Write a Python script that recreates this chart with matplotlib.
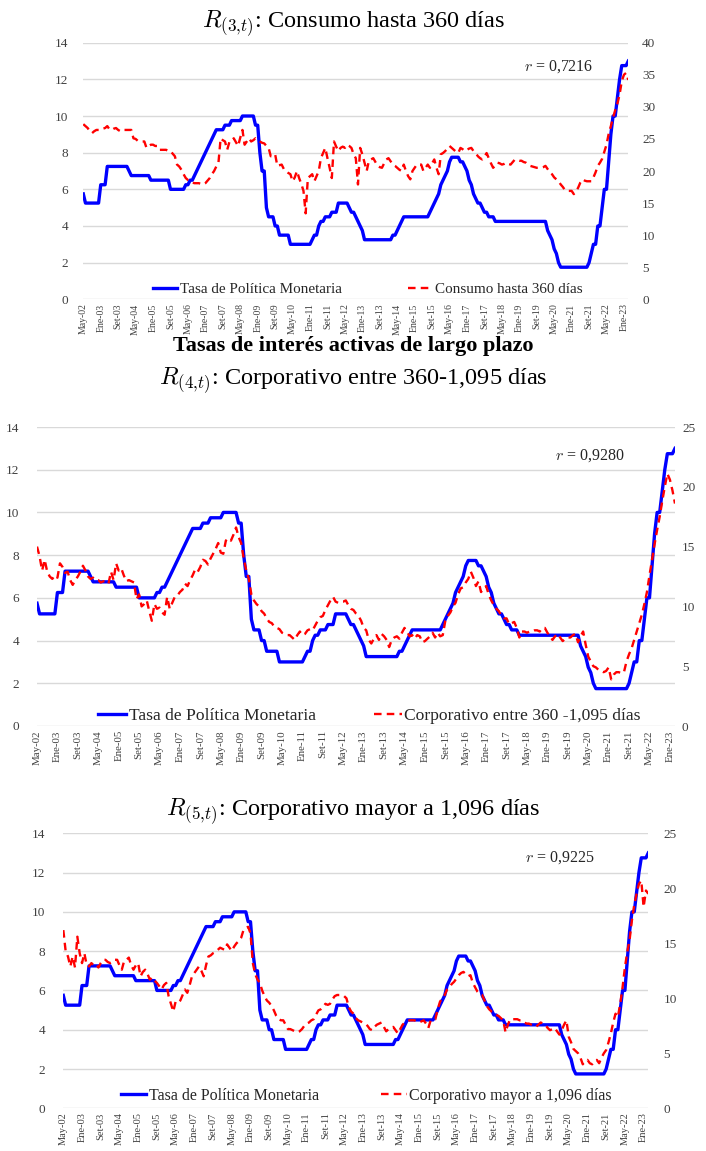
import matplotlib
matplotlib.use("Agg")
import matplotlib.pyplot as plt
import numpy as np

plt.rcParams["font.family"] = ["Liberation Serif", "DejaVu Serif"]
plt.rcParams["mathtext.fontset"] = "cm"

# monthly, May-2002 .. Mar-2023
tick_labels = [
    "May-02", "Ene-03", "Set-03", "May-04", "Ene-05", "Set-05", "May-06", "Ene-07",
    "Set-07", "May-08", "Ene-09", "Set-09", "May-10", "Ene-11", "Set-11", "May-12",
    "Ene-13", "Set-13", "May-14", "Ene-15", "Set-15", "May-16", "Ene-17", "Set-17",
    "May-18", "Ene-19", "Set-19", "May-20", "Ene-21", "Set-21", "May-22", "Ene-23",
]

# Tasa de Politica Monetaria (left axis)
tpm = [
    5.75, 5.25, 5.25, 5.25, 5.25, 5.25, 5.25, 5.25, 6.25, 6.25,
    6.25, 7.25, 7.25, 7.25, 7.25, 7.25, 7.25, 7.25, 7.25, 7.25,
    7.25, 7.0, 6.75, 6.75, 6.75, 6.75, 6.75, 6.75, 6.75, 6.75,
    6.75, 6.5, 6.5, 6.5, 6.5, 6.5, 6.5, 6.5, 6.5, 6.5,
    6.0, 6.0, 6.0, 6.0, 6.0, 6.0, 6.0, 6.25, 6.25, 6.5,
    6.5, 6.75, 7.0, 7.25, 7.5, 7.75, 8.0, 8.25, 8.5, 8.75,
    9.0, 9.25, 9.25, 9.25, 9.25, 9.5, 9.5, 9.5, 9.75, 9.75,
    9.75, 9.75, 9.75, 10.0, 10.0, 10.0, 10.0, 10.0, 10.0, 9.5,
    9.5, 8.0, 7.0, 7.0, 5.0, 4.5, 4.5, 4.5, 4.0, 4.0,
    3.5, 3.5, 3.5, 3.5, 3.5, 3.0, 3.0, 3.0, 3.0, 3.0,
    3.0, 3.0, 3.0, 3.0, 3.0, 3.25, 3.5, 3.5, 4.0, 4.25,
    4.25, 4.5, 4.5, 4.5, 4.75, 4.75, 4.75, 5.25, 5.25, 5.25,
    5.25, 5.25, 5.0, 4.75, 4.75, 4.5, 4.25, 4.0, 3.75, 3.25,
    3.25, 3.25, 3.25, 3.25, 3.25, 3.25, 3.25, 3.25, 3.25, 3.25,
    3.25, 3.25, 3.5, 3.5, 3.75, 4.0, 4.25, 4.5, 4.5, 4.5,
    4.5, 4.5, 4.5, 4.5, 4.5, 4.5, 4.5, 4.5, 4.5, 4.75,
    5.0, 5.25, 5.5, 5.75, 6.25, 6.5, 6.75, 7.0, 7.5, 7.75,
    7.75, 7.75, 7.75, 7.5, 7.5, 7.25, 7.0, 6.5, 6.25, 5.75,
    5.5, 5.25, 5.25, 5.0, 4.75, 4.75, 4.5, 4.5, 4.5, 4.25,
    4.25, 4.25, 4.25, 4.25, 4.25, 4.25, 4.25, 4.25, 4.25, 4.25,
    4.25, 4.25, 4.25, 4.25, 4.25, 4.25, 4.25, 4.25, 4.25, 4.25,
    4.25, 4.25, 4.25, 3.75, 3.5, 3.25, 2.75, 2.5, 2.0, 1.75,
    1.75, 1.75, 1.75, 1.75, 1.75, 1.75, 1.75, 1.75, 1.75, 1.75,
    1.75, 1.75, 2.0, 2.5, 3.0, 3.0, 4.0, 4.0, 5.0, 6.0,
    6.0, 7.5, 9.0, 10.0, 10.0, 11.0, 12.0, 12.75, 12.75, 12.75,
    13.0,
]

# Consumo hasta 360 dias (right axis)
consumo_360 = [
    27.3, 27.0, 26.7, 26.2, 25.9, 26.2, 26.4, 26.4, 26.4, 26.6,
    26.7, 27.0, 26.5, 26.4, 26.6, 26.7, 26.4, 26.2, 26.4, 26.4,
    26.4, 26.4, 26.4, 25.1, 25.0, 24.7, 24.6, 24.6, 24.6, 23.6,
    23.9, 24.1, 24.1, 23.9, 23.9, 23.3, 23.3, 23.3, 23.3, 23.1,
    23.1, 22.7, 22.3, 21.0, 20.7, 20.2, 19.5, 18.9, 18.6, 18.4,
    18.2, 18.1, 18.1, 18.1, 18.0, 17.9, 18.1, 18.5, 18.9, 19.5,
    20.0, 20.7, 21.3, 25.1, 24.8, 24.6, 23.3, 24.5, 24.6, 25.1,
    24.5, 23.9, 25.2, 26.4, 24.1, 24.6, 25.1, 24.6, 24.8, 25.1,
    24.8, 24.6, 24.4, 24.3, 23.9, 23.6, 22.3, 22.5, 22.6, 20.8,
    20.9, 21.0, 20.3, 20.0, 19.7, 19.5, 18.4, 19.0, 20.0, 18.9,
    18.0, 16.9, 13.4, 18.9, 19.2, 19.5, 18.4, 19.2, 20.0, 22.0,
    22.8, 23.6, 22.0, 20.5, 18.9, 24.6, 23.8, 23.1, 23.6, 23.8,
    23.6, 24.1, 23.9, 23.6, 22.6, 22.0, 17.9, 23.6, 22.6, 21.3,
    20.0, 21.6, 21.8, 22.0, 21.4, 20.8, 20.6, 20.5, 21.2, 21.8,
    22.0, 21.5, 21.0, 20.8, 20.5, 20.2, 20.0, 21.0, 20.0, 19.2,
    18.7, 20.0, 20.5, 21.0, 21.0, 21.0, 20.0, 20.5, 21.0, 20.5,
    21.2, 21.8, 20.5, 19.5, 22.6, 22.8, 23.1, 23.5, 23.9, 23.6,
    23.3, 23.0, 22.8, 23.6, 23.4, 23.1, 23.3, 23.5, 23.6, 23.1,
    22.8, 22.3, 22.0, 21.8, 22.2, 22.8, 22.0, 21.2, 20.5, 20.9,
    21.3, 21.2, 21.0, 21.1, 21.3, 21.1, 21.0, 21.4, 21.8, 21.7,
    21.6, 21.6, 21.4, 21.3, 21.0, 20.8, 20.7, 20.6, 20.5, 20.5,
    20.5, 20.6, 20.8, 20.3, 19.8, 19.5, 19.0, 18.7, 18.4, 17.9,
    17.5, 17.0, 16.9, 16.9, 16.9, 16.4, 16.8, 17.4, 18.2, 18.7,
    18.5, 18.4, 18.4, 18.4, 19.0, 19.8, 20.8, 21.3, 21.9, 23.0,
    24.1, 25.8, 27.0, 28.3, 29.5, 30.5, 31.9, 34.0, 35.0, 35.3,
    34.2,
]

# Corporativo entre 360-1,095 dias (right axis)
corp_360_1095 = [
    15.0, 14.2, 13.0, 13.9, 12.9, 12.5, 12.3, 12.6, 12.4, 13.6,
    13.3, 12.8, 12.9, 12.2, 11.8, 12.2, 12.5, 12.9, 13.4, 13.0,
    12.5, 12.3, 12.4, 12.2, 12.2, 12.0, 12.1, 12.1, 11.9, 12.9,
    12.2, 13.6, 13.0, 13.2, 12.6, 12.1, 12.2, 12.1, 12.0, 10.6,
    11.0, 10.0, 10.2, 10.5, 9.6, 8.8, 10.2, 9.8, 9.9, 9.5,
    9.3, 10.8, 9.8, 10.3, 10.8, 10.9, 11.2, 11.4, 11.9, 11.7,
    12.2, 12.6, 13.1, 12.9, 13.3, 13.9, 13.8, 13.5, 14.0, 14.4,
    14.8, 15.3, 14.5, 14.4, 15.5, 15.7, 15.5, 16.0, 16.6, 15.8,
    15.3, 14.0, 13.0, 12.3, 11.0, 10.5, 10.2, 10.0, 9.6, 9.4,
    9.0, 8.7, 8.6, 8.3, 8.2, 8.1, 7.8, 7.7, 7.6, 7.6,
    7.4, 7.2, 7.6, 7.9, 7.6, 7.7, 8.0, 8.1, 8.0, 8.4,
    8.8, 9.1, 9.2, 9.7, 10.1, 10.5, 10.8, 10.4, 10.3, 10.4,
    10.4, 10.5, 10.1, 9.8, 9.7, 9.4, 9.2, 8.8, 8.2, 8.0,
    7.2, 6.9, 7.3, 7.6, 7.2, 7.7, 7.5, 7.2, 6.6, 7.2,
    7.4, 7.5, 7.3, 7.8, 8.2, 7.9, 7.5, 7.6, 7.3, 7.6,
    7.5, 7.0, 7.1, 7.3, 7.5, 7.8, 7.4, 7.8, 7.5, 7.6,
    8.8, 9.2, 9.5, 10.0, 10.3, 11.0, 11.5, 11.6, 12.0, 12.3,
    12.9, 12.4, 11.7, 12.1, 11.2, 11.5, 11.7, 11.0, 10.5, 10.1,
    9.8, 9.6, 9.2, 9.0, 9.0, 8.5, 8.6, 8.7, 8.2, 7.4,
    7.9, 7.9, 7.8, 7.9, 7.9, 8.0, 8.0, 7.9, 8.2, 8.2,
    7.8, 7.5, 7.2, 7.5, 7.7, 7.4, 7.1, 7.3, 7.4, 7.4,
    7.6, 7.7, 7.0, 7.5, 7.9, 6.8, 5.8, 5.4, 5.0, 4.9,
    4.7, 4.6, 4.5, 4.6, 4.9, 3.9, 4.3, 4.5, 4.5, 4.4,
    4.5, 5.4, 6.0, 6.5, 7.2, 7.9, 8.6, 9.3, 10.2, 11.2,
    12.6, 13.9, 15.2, 16.4, 17.5, 18.8, 20.0, 21.1, 20.6, 19.7,
    18.6,
]

# Corporativo mayor a 1,096 dias (right axis)
corp_1096 = [
    16.2, 14.3, 13.8, 12.9, 13.8, 12.8, 15.6, 14.1, 13.2, 14.1,
    13.0, 12.9, 13.2, 13.0, 13.1, 12.8, 13.2, 13.5, 13.5, 13.3,
    13.2, 13.3, 13.5, 13.5, 13.0, 12.6, 13.4, 13.5, 13.7, 13.0,
    12.6, 13.0, 13.2, 12.0, 12.4, 12.6, 12.2, 11.7, 11.9, 11.6,
    11.4, 11.1, 10.8, 11.2, 11.4, 10.2, 9.5, 8.8, 9.7, 9.6,
    9.8, 10.3, 10.8, 10.5, 11.2, 12.0, 12.3, 12.6, 12.9, 12.5,
    12.0, 13.0, 13.8, 13.9, 14.1, 14.2, 14.4, 14.6, 14.5, 14.4,
    14.9, 14.6, 14.3, 14.7, 15.0, 15.2, 15.5, 16.2, 16.4, 16.5,
    15.9, 13.2, 12.2, 11.7, 11.4, 10.7, 10.2, 9.8, 9.6, 9.3,
    8.9, 8.4, 8.1, 8.0, 8.0, 7.6, 7.2, 7.2, 7.1, 7.0,
    6.9, 7.0, 7.2, 7.5, 7.7, 7.8, 8.0, 8.1, 8.5, 8.9,
    9.0, 9.2, 9.5, 9.4, 9.5, 9.9, 10.2, 10.3, 10.3, 10.3,
    10.2, 10.0, 9.2, 8.8, 8.6, 8.2, 8.0, 7.9, 7.8, 7.7,
    7.5, 7.2, 7.1, 7.4, 7.6, 7.7, 7.8, 7.4, 7.0, 7.2,
    7.3, 7.4, 7.1, 6.8, 7.2, 7.6, 7.8, 7.9, 8.0, 8.0,
    8.0, 7.9, 7.8, 7.9, 8.0, 7.7, 7.3, 8.0, 8.1, 8.1,
    9.0, 9.7, 10.0, 10.3, 10.8, 11.0, 11.3, 11.5, 11.8, 12.1,
    12.3, 12.4, 12.2, 12.0, 12.1, 11.4, 11.0, 10.6, 10.4, 10.3,
    9.8, 9.3, 9.0, 8.8, 8.7, 8.5, 8.4, 8.2, 8.0, 6.9,
    7.6, 8.1, 8.1, 8.1, 8.1, 8.0, 8.0, 7.8, 7.7, 7.7,
    7.6, 7.5, 7.4, 7.6, 7.8, 7.7, 7.6, 7.3, 7.1, 7.2,
    7.3, 7.0, 6.7, 7.1, 7.6, 8.0, 6.5, 6.0, 5.4, 5.2,
    5.0, 4.6, 4.0, 4.3, 4.4, 4.1, 4.0, 4.3, 4.4, 4.1,
    4.6, 5.0, 5.3, 6.0, 6.8, 7.8, 8.6, 8.3, 9.5, 11.0,
    12.8, 14.2, 15.3, 17.1, 18.5, 19.5, 20.4, 20.7, 18.3, 19.8,
    19.5,
]

BLUE = "#0000ff"
RED = "#ff0000"
GRAY = "#404040"
GRID = "#d9d9d9"


def panel(rect, red, red_label, ymax_r, r_text, r_pos, leg_pos, leg_size, colspace,
          ypad_l, ypad_r, xlab_size):
    ax = fig.add_axes(rect)
    x = np.arange(len(tpm))
    h1, = ax.plot(x, tpm, color=BLUE, lw=2.4, solid_joinstyle="round", zorder=3)
    ax.set_xlim(0, len(tpm) - 1)
    ax.set_ylim(0, 14)
    ax.set_yticks(np.arange(0, 15, 2))
    ax.grid(axis="y", color=GRID, lw=1.0)
    ax.set_axisbelow(True)
    ax.set_xticks(np.arange(0, len(tpm), 8))
    ax.set_xticklabels(tick_labels, rotation=90, fontsize=xlab_size, color=GRAY)
    ax.tick_params(axis="x", length=0, pad=3)
    ax.tick_params(axis="y", length=0, pad=ypad_l, labelsize=9.5, labelcolor=GRAY)
    for s in ax.spines.values():
        s.set_visible(False)

    ax2 = ax.twinx()
    h2, = ax2.plot(x, red, color=RED, lw=1.7, linestyle=(0, (3.2, 2.2)), zorder=4)
    ax2.set_ylim(0, ymax_r)
    ax2.set_yticks(np.arange(0, ymax_r + 1, 5))
    ax2.tick_params(axis="y", length=0, pad=ypad_r, labelsize=9.5, labelcolor=GRAY)
    for s in ax2.spines.values():
        s.set_visible(False)

    ax2.text(r_pos[0], r_pos[1], r_text, transform=ax2.transAxes, ha="center",
             va="center", fontsize=11.5, color="#262626")
    ax2.legend([h1, h2], ["Tasa de Política Monetaria", red_label], loc="center",
               bbox_to_anchor=leg_pos, ncol=2, frameon=False, fontsize=leg_size,
               handlelength=1.6, handletextpad=0.15, columnspacing=colspace,
               labelcolor="#262626")
    return ax


fig = plt.figure(figsize=(7.06, 11.51), dpi=100)
W, H = 706.0, 1151.0

# panel 1
panel([83.3 / W, 1 - 299.3 / H, 545 / W, 256.6 / H], consumo_360,
      "Consumo hasta 360 días", 40, r"$r$ = 0,7216", (0.873, 0.905),
      (0.522, 0.04), 10.9, 4.4, 11, 10, 7.0)
fig.text(0.5, 1 - 27 / H, r"$R_{(3{,}t)}$: Consumo hasta 360 días", ha="center",
         va="baseline", fontsize=17.5, color="#000000")

# panel 2
fig.text(0.5, 1 - 351 / H, "Tasas de interés activas de largo plazo", ha="center",
         va="baseline", fontsize=16, fontweight="bold", color="#000000")
panel([37 / W, 1 - 726 / H, 638 / W, 299 / H], corp_360_1095,
      "Corporativo entre 360 -1,095 días", 25, r"$r$ = 0,9280", (0.867, 0.903),
      (0.521, 0.033), 12.6, 3.3, 13, 5, 7.8)
fig.text(0.5, 1 - 384 / H, r"$R_{(4{,}t)}$: Corporativo entre 360-1,095 días",
         ha="center", va="baseline", fontsize=17.5, color="#000000")

# panel 3
panel([63.3 / W, 1 - 1108.3 / H, 585 / W, 275 / H], corp_1096,
      "Corporativo mayor a 1,096 días", 25, r"$r$ = 0,9225", (0.849, 0.91),
      (0.518, 0.045), 11.5, 3.9, 13, 11, 7.5)
fig.text(0.5, 1 - 815 / H, r"$R_{(5{,}t)}$: Corporativo mayor a 1,096 días",
         ha="center", va="baseline", fontsize=17.5, color="#000000")

fig.savefig("out.png", dpi=100)
